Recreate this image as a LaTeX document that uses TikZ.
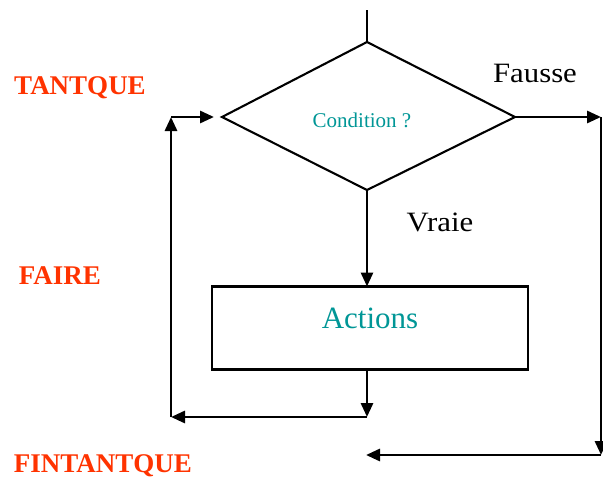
\documentclass[tikz,border=0pt]{standalone}
\usepackage{fontspec}
\setmainfont{Liberation Serif}
\usetikzlibrary{arrows.meta}
\definecolor{kwred}{RGB}{255,51,0}
\definecolor{tealtxt}{RGB}{0,150,150}
\begin{document}
\begin{tikzpicture}[x=1pt,y=-1pt,
  flow/.style={line width=2.9pt,-{Triangle[length=14pt,width=12pt]}},
  plain/.style={line width=2.9pt},
  keyword/.style={text=kwred,font=\fontsize{27}{30}\selectfont\bfseries,inner sep=0pt},
  branch/.style={font=\fontsize{28}{31}\selectfont,inner sep=0pt,xscale=1.1},
  shapeline/.style={line width=2.1pt,draw=black}]
\useasboundingbox (0,0) rectangle (603,482);
% decision diamond
\coordinate (dtop) at (367,42);
\coordinate (dleft) at (222,117);
\coordinate (dright) at (515,117);
\coordinate (dbot) at (367,190);
\draw[shapeline] (dtop) -- (dright) -- (dbot) -- (dleft) -- cycle;
\node[text=tealtxt,font=\fontsize{21}{24}\selectfont,inner sep=0pt] (cond) at (362,120) {Condition ?};
\coordinate (entry) at (367,10);
\draw[plain] (entry) -- (dtop);
% action box
\node[shapeline,minimum width=316pt,minimum height=83pt,inner sep=0pt] (act) at (370,328) {};
\node[text=tealtxt,font=\fontsize{31}{34}\selectfont,inner sep=0pt] (acttxt) at (370,318) {Actions};
\coordinate (atop) at (367,286.5);
\coordinate (abot) at (367,369.5);
% true branch
\draw[flow] (dbot) -- (atop);
\node[branch] (vraie) at (440,222) {Vraie};
% loop back
\coordinate (b1) at (367,417);
\coordinate (b2) at (171,417);
\coordinate (b3) at (171,117);
\coordinate (b4) at (214,117);
\draw[flow] (abot) -- (b1);
\draw[flow] (b1) -- (b2);
\draw[flow] (b2) -- (b3);
\draw[flow] (b3) -- (b4);
% false branch
\coordinate (f1) at (601,117);
\coordinate (f2) at (601,455);
\coordinate (f3) at (366,455);
\node[branch] (fausse) at (535,73) {Fausse};
\draw[flow] (dright) -- (f1);
\draw[flow] (f1) -- (f2);
\draw[flow] (f2) -- (f3);
% keywords
\node[keyword] (tq) at (80,88) {TANTQUE};
\node[keyword] (faire) at (60,276) {FAIRE};
\node[keyword] (ftq) at (103,466) {FINTANTQUE};
\end{tikzpicture}
\end{document}
